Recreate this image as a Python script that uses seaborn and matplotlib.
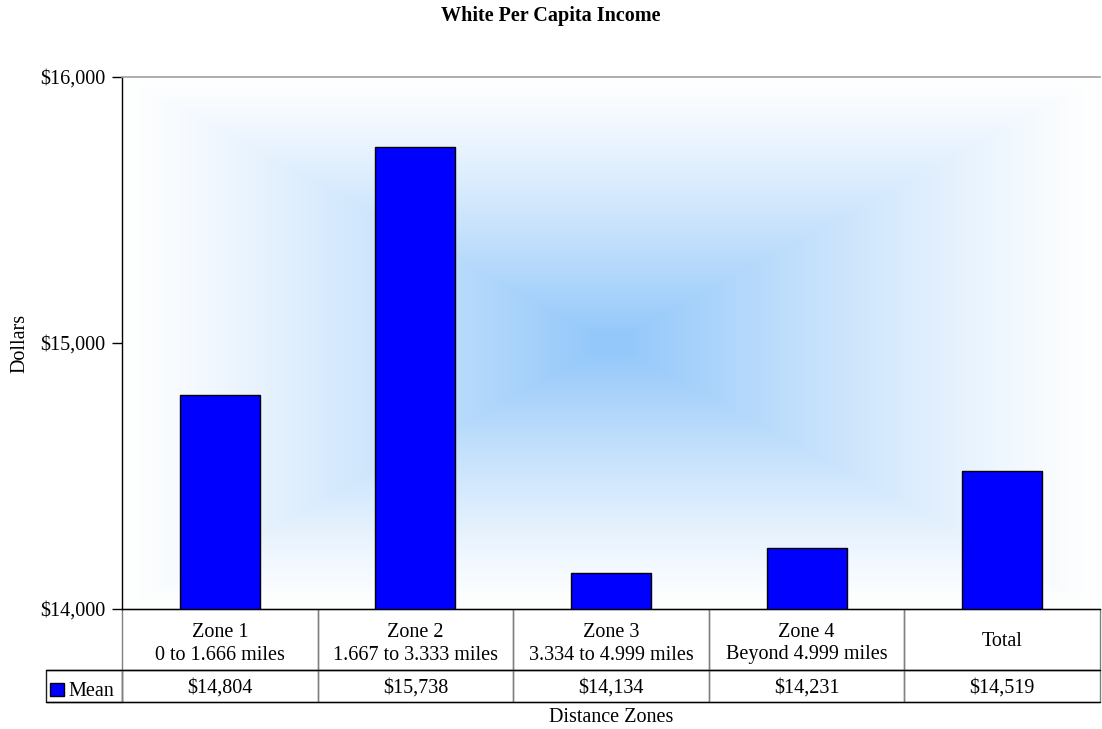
import numpy as np
import pandas as pd
import matplotlib
matplotlib.use("Agg")
import matplotlib.pyplot as plt
from matplotlib.table import Table
from matplotlib.patches import Rectangle
import seaborn as sns

# ---- data ----
categories = ["Zone 1\n0 to 1.666 miles", "Zone 2\n1.667 to 3.333 miles",
              "Zone 3\n3.334 to 4.999 miles", "Zone 4\nBeyond 4.999 miles", "Total"]
mean_values = [14804, 15738, 14134, 14231, 14519]
value_labels = ["$14,804", "$15,738", "$14,134", "$14,231", "$14,519"]
yticks = [14000, 15000, 16000]
ytick_labels = ["$14,000", "$15,000", "$16,000"]
series_name = "Mean"

sns.set_style("white")
plt.rcParams["font.family"] = ["Liberation Serif", "DejaVu Serif"]
plt.rcParams["text.color"] = "black"
plt.rcParams["axes.labelcolor"] = "black"
plt.rcParams["ytick.color"] = "black"
FS = 14.5

W, H = 1102, 729
fig = plt.figure(figsize=(W / 100, H / 100), dpi=100)
axL, axR, axT, axB = 122, 1100, 77, 609
ax = fig.add_axes([axL / W, 1 - axB / H, (axR - axL) / W, (axB - axT) / H])
axw, axh = axR - axL, axB - axT

# gradient background (rectangular path gradient)
n = 400
u = np.linspace(-1, 1, n)
X, Y = np.meshgrid(u, u)
t = np.maximum(np.abs(X), np.abs(Y))
k = np.clip((1 - t) / 0.97, 0, 1) ** 1.2
center = np.array([148, 200, 250]) / 255.0
img = np.ones((n, n, 3)) * (1 - k[..., None]) + center * k[..., None]
ax.imshow(img, extent=[0, 1, 0, 1], transform=ax.transAxes, aspect="auto",
          zorder=0, interpolation="bilinear")

df = pd.DataFrame({"zone": categories, "value": mean_values})
sns.barplot(data=df, x="zone", y="value", order=categories, color="#0000FF",
            saturation=1, edgecolor="black", linewidth=1.0, width=0.41, ax=ax, zorder=2)

ax.set_ylim(yticks[0], yticks[-1])
ax.set_xlim(-0.5, len(categories) - 0.5)
ax.set_yticks(yticks)
ax.set_yticklabels(ytick_labels, fontsize=FS)
ax.tick_params(axis="y", direction="out", length=7, width=1, color="black", pad=5, left=True)
ax.set_xticks([])
ax.set_xlabel("")
ax.set_ylabel("Dollars", fontsize=FS)
ax.yaxis.set_label_coords(-(122 - 29) / axw, 0.5)
for s in ["left", "bottom"]:
    ax.spines[s].set_color("black")
    ax.spines[s].set_linewidth(1.0)
ax.spines["top"].set_color("#a0a0a0")
ax.spines["top"].set_linewidth(1.2)
ax.spines["right"].set_visible(False)

fig.text(0.5, 1 - 16 / H, "White Per Capita Income", ha="center", va="center",
         fontsize=FS, fontweight="bold")

# ---- data table ----
tbl_left, tbl_top, div_y, tbl_bot = 46, 609, 670, 702
lab_w = (axL - tbl_left) / axw
col_w = 1.0 / len(categories)
h1 = (div_y - tbl_top) / axh
h2 = (tbl_bot - div_y) / axh
tbl = Table(ax, bbox=[-lab_w, -(tbl_bot - tbl_top) / axh, 1 + lab_w, (tbl_bot - tbl_top) / axh])
for j, c in enumerate(categories):
    cell = tbl.add_cell(0, j + 1, width=col_w, height=h1, text=c, loc="center")
    cell.get_text().set_fontsize(FS)
    cell.get_text().set_linespacing(1.25)
    cell.get_text().set_verticalalignment("center_baseline")
    cell.set_edgecolor("#808080")
    cell.set_facecolor("none")
    cell = tbl.add_cell(1, j + 1, width=col_w, height=h2, text=value_labels[j], loc="center")
    cell.get_text().set_fontsize(FS)
    cell.get_text().set_verticalalignment("center_baseline")
    cell.set_edgecolor("#808080")
    cell.set_facecolor("none")
cell = tbl.add_cell(1, 0, width=lab_w, height=h2, text="", loc="left")
cell.set_edgecolor("#202020")
cell.set_facecolor("none")
tbl.auto_set_font_size(False)
ax.add_table(tbl)

# black horizontal rules
for yy, x0 in [(div_y, tbl_left), (tbl_bot, tbl_left)]:
    ax.plot([-(axL - x0) / axw, 1], [-(yy - axB) / axh] * 2, color="black", lw=1.0,
            transform=ax.transAxes, clip_on=False, zorder=5)

# legend key + series name
ax.add_patch(Rectangle(((50 - axL) / axw, -(696 - axB) / axh), 14 / axw, 13 / axh,
                       transform=ax.transAxes, clip_on=False, facecolor="#0000FF",
                       edgecolor="black", lw=1.0, zorder=6))
ax.text((68 - axL) / axw, -(689 - axB) / axh, series_name, transform=ax.transAxes,
        ha="left", va="center_baseline", fontsize=FS)

fig.text((axL + axR) / 2 / W, 1 - 717 / H, "Distance Zones", ha="center", va="center",
         fontsize=FS)

fig.savefig("out.png", dpi=100)
